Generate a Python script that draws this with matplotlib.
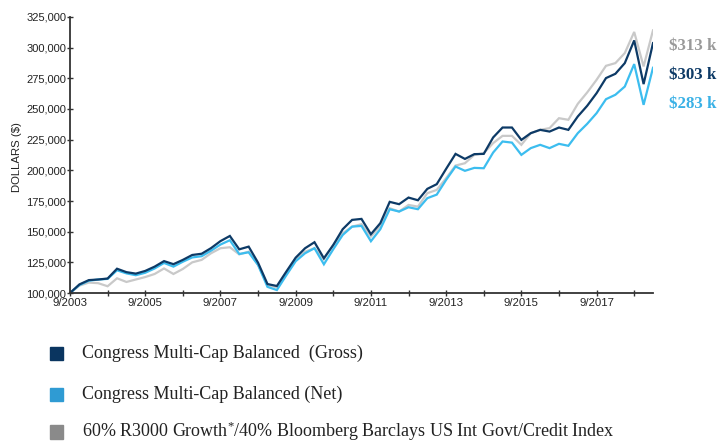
import matplotlib
matplotlib.use("Agg")
import matplotlib.pyplot as plt
from matplotlib.patches import Rectangle
import numpy as np

# Quarterly dates 9/2003 .. 3/2019
quarters = [f"{m}/{y}" for y in range(2003, 2020) for m in (3, 6, 9, 12)][2:-3]

gross = [100.0, 107.0, 110.5, 111.0, 111.8, 119.8, 117.0, 115.8, 118.0, 121.5,
         126.0, 123.5, 127.0, 131.0, 132.0, 136.6, 142.3, 146.5, 135.6, 137.8,
         124.7, 107.3, 105.7, 117.4, 128.8, 136.5, 141.4, 128.3, 139.2, 152.0,
         159.6, 160.4, 147.9, 156.9, 174.3, 172.4, 177.8, 175.6, 184.9, 188.7,
         201.2, 213.4, 209.3, 213.2, 213.4, 226.8, 234.9, 234.9, 224.8, 230.3,
         233.0, 231.6, 234.9, 233.0, 243.9, 252.6, 262.9, 275.2, 278.7, 287.4,
         305.9, 270.3, 303.7]
net = [100.0, 106.5, 110.0, 111.0, 111.5, 118.5, 116.0, 114.5, 116.5, 120.0,
       124.5, 121.5, 125.5, 129.0, 130.0, 134.5, 139.5, 143.0, 131.8, 133.2,
       122.8, 105.0, 102.4, 114.4, 125.9, 132.4, 136.5, 123.4, 135.7, 147.3,
       154.1, 154.7, 142.2, 152.0, 168.3, 166.4, 169.9, 168.3, 177.3, 180.2,
       192.2, 203.1, 199.6, 202.0, 201.7, 214.5, 223.5, 222.6, 212.6, 218.1,
       220.8, 218.1, 221.6, 220.0, 230.3, 237.9, 246.6, 258.0, 261.6, 268.3,
       286.6, 253.4, 283.6]
index = [100.0, 106.0, 108.5, 108.0, 105.5, 112.0, 109.0, 111.0, 113.0, 115.5,
         120.0, 115.5, 119.6, 125.0, 127.0, 132.4, 136.5, 137.3, 131.5, 133.7,
         123.0, 106.5, 104.6, 116.0, 128.3, 133.7, 136.5, 127.5, 139.2, 148.7,
         154.1, 156.1, 146.0, 154.7, 169.1, 166.4, 171.8, 170.4, 181.4, 184.0,
         193.6, 203.9, 205.8, 212.6, 214.0, 222.2, 228.1, 228.1, 220.8, 230.3,
         233.0, 234.4, 242.5, 241.2, 254.2, 263.5, 273.8, 285.2, 287.4, 295.6,
         312.8, 284.7, 314.1]

end_labels = ["$313 k", "$303 k", "$283 k"]
legend_labels = ["Congress Multi-Cap Balanced  (Gross)",
                 "Congress Multi-Cap Balanced (Net)",
                 "60% R3000 Growth$^{*}$/40% Bloomberg Barclays US Int Govt/Credit Index"]
yticks = [100000, 125000, 150000, 175000, 200000, 225000, 250000, 275000, 300000, 325000]

c_gross = "#0d3a66"
c_net = "#3cbdef"
c_index = "#c9c9c9"

plt.rcParams['mathtext.fontset'] = 'custom'
plt.rcParams['mathtext.rm'] = 'Liberation Serif'
plt.rcParams['mathtext.it'] = 'Liberation Serif'

fig = plt.figure(figsize=(7.2, 4.44), dpi=100)
ax = fig.add_axes([70/720, 1-293/444, (653-70)/720, (293-17)/444])

x = np.arange(len(quarters))
to_d = lambda s: [v * 1000 for v in s]
ax.plot(x, to_d(index), color=c_index, lw=1.6, solid_joinstyle='miter')
ax.plot(x, to_d(net), color=c_net, lw=1.6, solid_joinstyle='miter')
ax.plot(x, to_d(gross), color=c_gross, lw=1.6, solid_joinstyle='miter')

ax.set_xlim(0, len(quarters) - 1)
ax.set_ylim(100000, 325000)
ax.set_yticks(yticks)
ax.set_yticklabels([f"{v:,}" for v in yticks], fontfamily='Liberation Sans', fontsize=8.0, color='#222222')
major = [i for i, q in enumerate(quarters) if q.startswith("9/") and int(q[2:]) % 2 == 1]
allt = [i for i, q in enumerate(quarters) if q.startswith("9/")]
ax.set_xticks(allt)
ax.set_xticklabels([quarters[i] if i in major else "" for i in allt],
                   fontfamily='Liberation Sans', fontsize=8.2, color='#222222')
ax.tick_params(axis='both', direction='inout', length=5, width=1, color='#333333', pad=1)
ax.tick_params(axis='y', pad=0.3)
for s in ['top', 'right']:
    ax.spines[s].set_visible(False)
for s in ['left', 'bottom']:
    ax.spines[s].set_color('#333333')
    ax.spines[s].set_linewidth(1.3)
ax.set_ylabel("DOLLARS ($)", fontfamily='Liberation Sans', fontsize=8.2, color='#222222')
ax.yaxis.set_label_coords((22.5 - 70) / 583, (293 - 157) / 276)

# end labels
for lab, col, yy in zip(end_labels, ["#9a9a9a", c_gross, "#3ab1e6"], [46, 75, 104]):
    fig.text(669/720, 1 - yy/444, lab.replace("$", r"\$"), color=col, fontsize=12.2,
             fontfamily='Liberation Serif', fontweight='bold', va='center', ha='left')

# legend
leg_cols = ["#0a3560", "#2f9bd3", "#8a8a8a"]
for lab, col, yy in zip(legend_labels, leg_cols, [353.5, 394.5, 432.0]):
    fig.patches.append(Rectangle((49.5/720, 1 - (yy + 6.5)/444), 13.5/720, 13.5/444,
                                 transform=fig.transFigure, color=col))
    fig.text(81.5/720, 1 - (yy + 4.5)/444, lab, fontsize=13.0, fontfamily='Liberation Serif',
             color='#222222', va='baseline', ha='left')

fig.savefig("out.png", dpi=100)
